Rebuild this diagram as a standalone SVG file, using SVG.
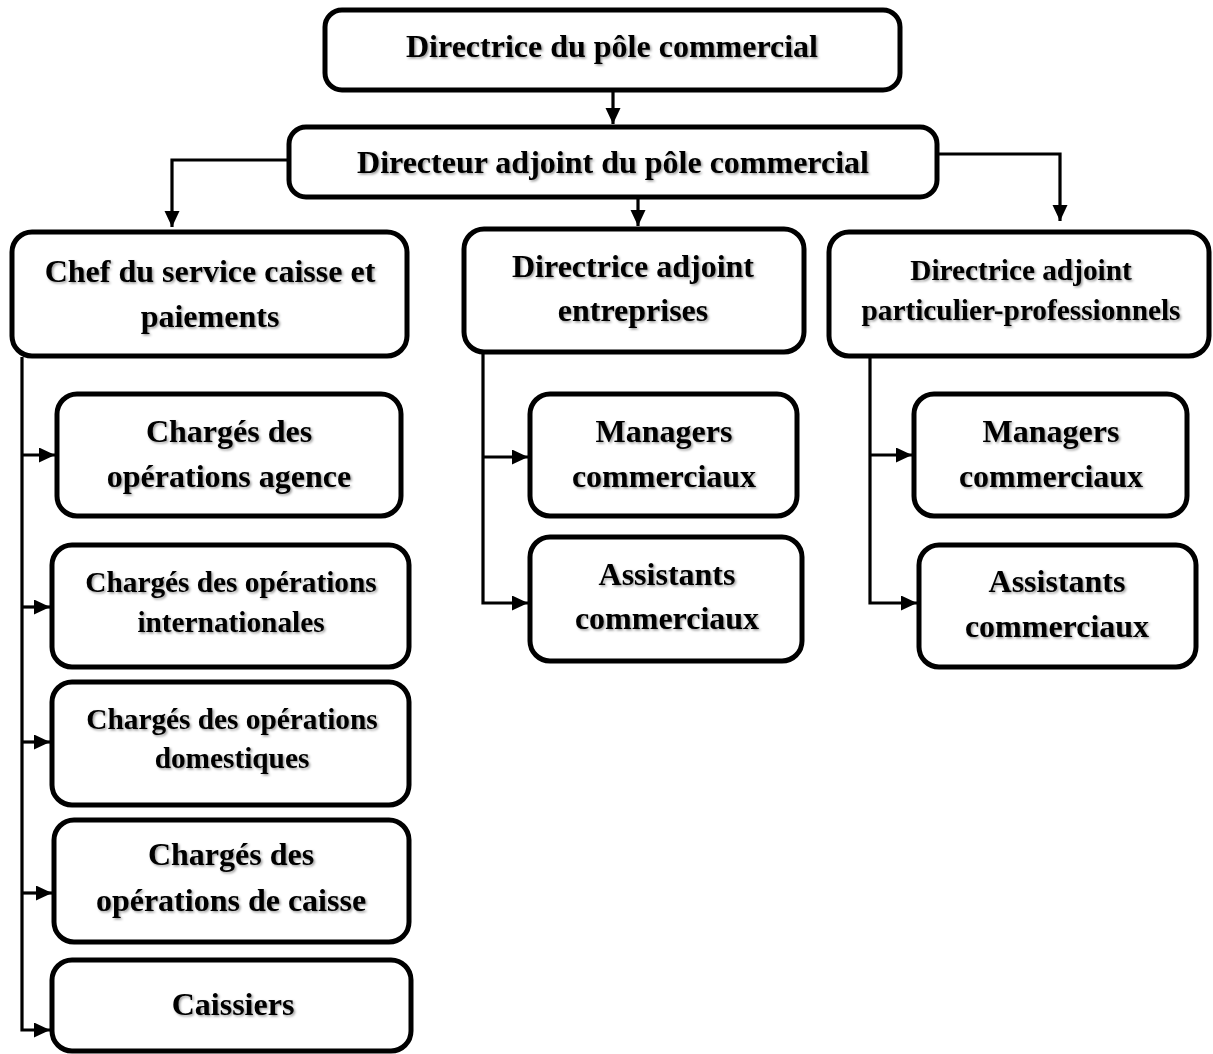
<svg xmlns="http://www.w3.org/2000/svg" width="1213" height="1054" viewBox="0 0 1213 1054">
  <style>
    .box { fill: #fff; stroke: #000; stroke-width: 5; }
    .lbl { font-family: "Liberation Serif", "Times New Roman", serif; font-weight: bold; font-size: 32px; fill: #000; text-anchor: middle; filter: url(#shadow); }
    .sm { font-size: 29.3px; }
    .wire { fill: none; stroke: #000; stroke-width: 3.2; }
  </style>
  <defs>
    <filter id="shadow" x="-10%" y="-30%" width="120%" height="160%">
      <feDropShadow dx="1.5" dy="1.5" stdDeviation="1" flood-color="#000" flood-opacity="0.4"/>
    </filter>
    <marker id="arrow" markerUnits="userSpaceOnUse" markerWidth="16" markerHeight="16" refX="16" refY="7.5" orient="auto">
      <path d="M0,0 L16,7.5 L0,15 z" fill="#000"/>
    </marker>
  </defs>

  <!-- connectors -->
  <g id="connectors">
    <path class="wire" d="M613,90 V124" marker-end="url(#arrow)"/>
    <path class="wire" d="M287,160 H172 V227" marker-end="url(#arrow)"/>
    <path class="wire" d="M638,198 V226" marker-end="url(#arrow)"/>
    <path class="wire" d="M938,154 H1060 V221" marker-end="url(#arrow)"/>

    <!-- Chef du service branch -->
    <path class="wire" d="M22,357 V1030 H50" marker-end="url(#arrow)"/>
    <path class="wire" d="M22,455 H55" marker-end="url(#arrow)"/>
    <path class="wire" d="M22,607 H50" marker-end="url(#arrow)"/>
    <path class="wire" d="M22,742 H50" marker-end="url(#arrow)"/>
    <path class="wire" d="M22,893 H52" marker-end="url(#arrow)"/>

    <!-- entreprises branch -->
    <path class="wire" d="M483,353 V603 H528" marker-end="url(#arrow)"/>
    <path class="wire" d="M483,457 H528" marker-end="url(#arrow)"/>

    <!-- particulier-professionnels branch -->
    <path class="wire" d="M870,357 V603 H917" marker-end="url(#arrow)"/>
    <path class="wire" d="M870,455 H912" marker-end="url(#arrow)"/>
  </g>

  <g id="directrice-pole">
    <rect class="box" x="325" y="10" width="575" height="80" rx="17"/>
    <text class="lbl" x="612" y="57">Directrice du pôle commercial</text>
  </g>

  <g id="directeur-adjoint">
    <rect class="box" x="289" y="127" width="648" height="70" rx="17"/>
    <text class="lbl" x="613" y="173">Directeur adjoint du pôle commercial</text>
  </g>

  <g id="chef-service-caisse">
    <rect class="box" x="12" y="232" width="395" height="124" rx="20"/>
    <text class="lbl" x="210" y="282">Chef du service caisse et</text>
    <text class="lbl" x="210" y="327">paiements</text>
  </g>

  <g id="directrice-entreprises">
    <rect class="box" x="464" y="229" width="340" height="123" rx="20"/>
    <text class="lbl" x="633" y="277">Directrice adjoint</text>
    <text class="lbl" x="633" y="321">entreprises</text>
  </g>

  <g id="directrice-particuliers">
    <rect class="box" x="829" y="232" width="380" height="124" rx="20"/>
    <text class="lbl sm" x="1021" y="280">Directrice adjoint</text>
    <text class="lbl sm" x="1021" y="320">particulier-professionnels</text>
  </g>

  <g id="operations-agence">
    <rect class="box" x="57" y="394" width="344" height="122" rx="20"/>
    <text class="lbl" x="229" y="442">Chargés des</text>
    <text class="lbl" x="229" y="487">opérations agence</text>
  </g>

  <g id="operations-internationales">
    <rect class="box" x="52" y="545" width="357" height="122" rx="20"/>
    <text class="lbl sm" x="231" y="592">Chargés des opérations</text>
    <text class="lbl sm" x="231" y="632">internationales</text>
  </g>

  <g id="operations-domestiques">
    <rect class="box" x="52" y="682" width="357" height="123" rx="20"/>
    <text class="lbl sm" x="232" y="729">Chargés des opérations</text>
    <text class="lbl sm" x="232" y="768">domestiques</text>
  </g>

  <g id="operations-caisse">
    <rect class="box" x="54" y="820" width="355" height="122" rx="20"/>
    <text class="lbl" x="231" y="865">Chargés des</text>
    <text class="lbl" x="231" y="911">opérations de caisse</text>
  </g>

  <g id="caissiers">
    <rect class="box" x="52" y="960" width="359" height="91" rx="20"/>
    <text class="lbl" x="233" y="1015">Caissiers</text>
  </g>

  <g id="managers-entreprises">
    <rect class="box" x="530" y="394" width="267" height="122" rx="20"/>
    <text class="lbl" x="664" y="442">Managers</text>
    <text class="lbl" x="664" y="487">commerciaux</text>
  </g>

  <g id="assistants-entreprises">
    <rect class="box" x="530" y="537" width="272" height="124" rx="20"/>
    <text class="lbl" x="667" y="585">Assistants</text>
    <text class="lbl" x="667" y="629">commerciaux</text>
  </g>

  <g id="managers-particuliers">
    <rect class="box" x="914" y="394" width="273" height="122" rx="20"/>
    <text class="lbl" x="1051" y="442">Managers</text>
    <text class="lbl" x="1051" y="487">commerciaux</text>
  </g>

  <g id="assistants-particuliers">
    <rect class="box" x="919" y="545" width="277" height="122" rx="20"/>
    <text class="lbl" x="1057" y="592">Assistants</text>
    <text class="lbl" x="1057" y="637">commerciaux</text>
  </g>
</svg>
